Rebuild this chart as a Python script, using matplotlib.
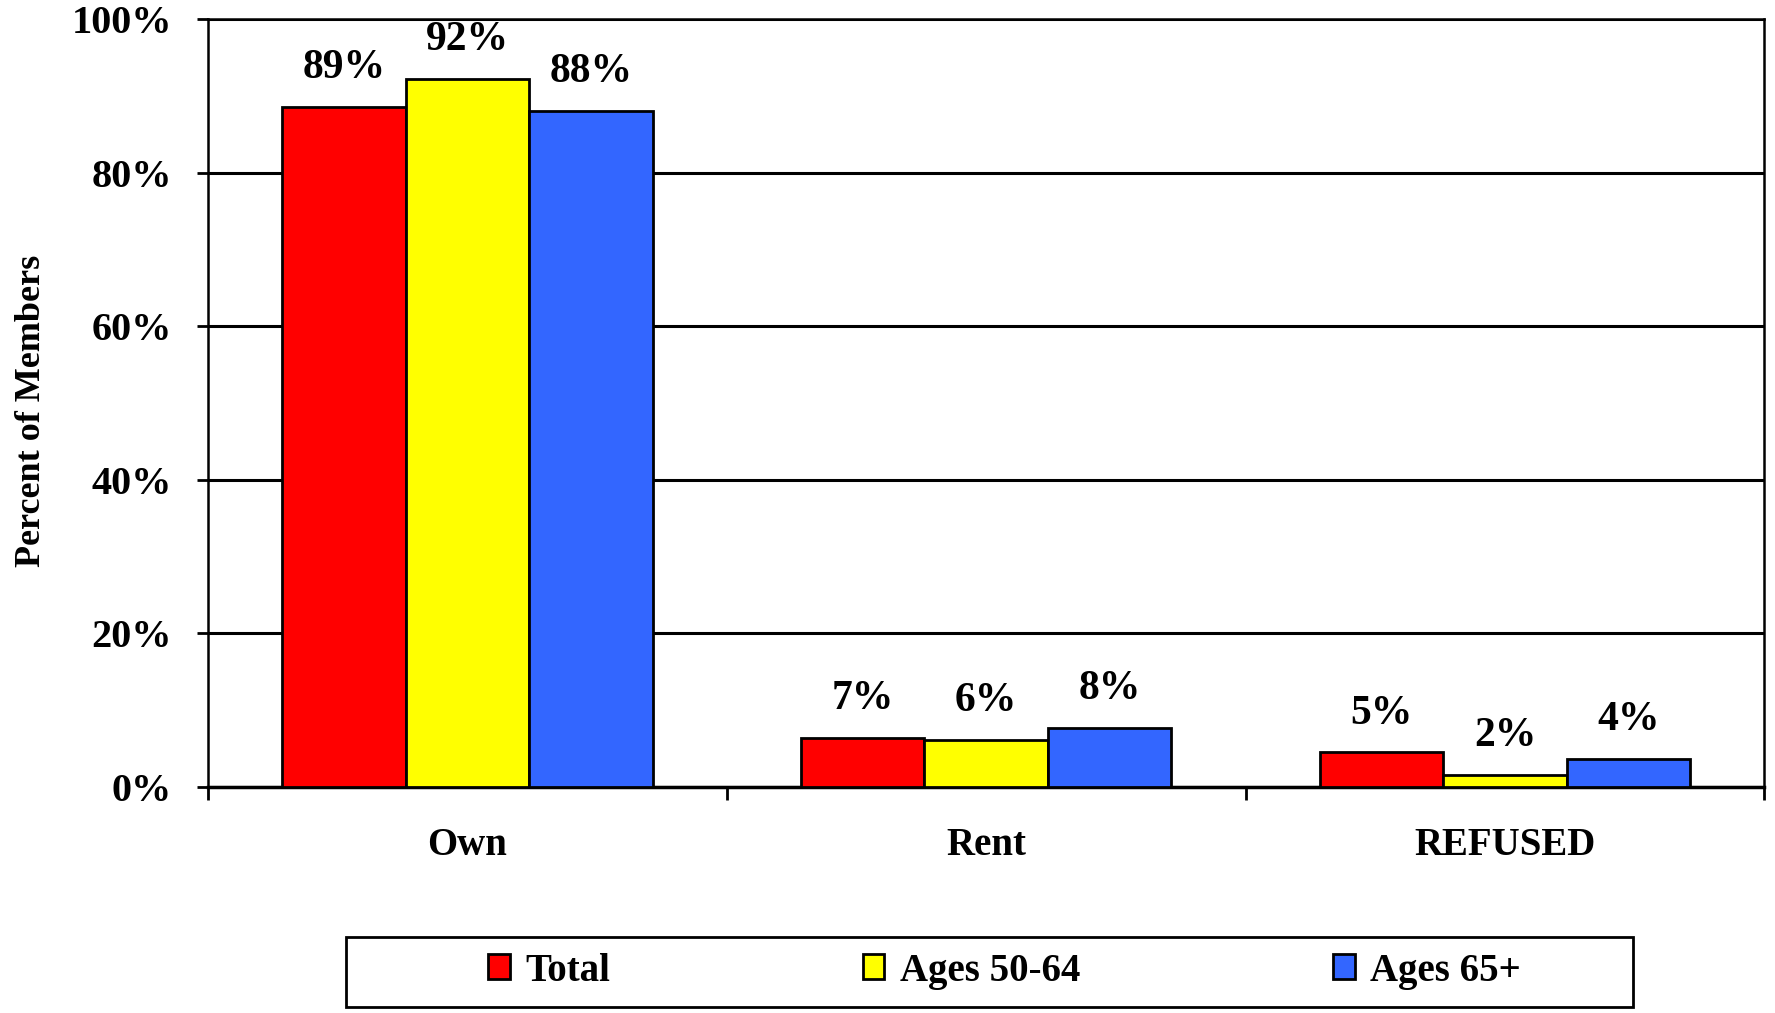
import matplotlib
matplotlib.use('Agg')
import numpy as np
import matplotlib.pyplot as plt
from matplotlib.patches import Rectangle

categories = ['Own', 'Rent', 'REFUSED']
series = ['Total', 'Ages 50-64', 'Ages 65+']
total = [88.5, 6.4, 4.5]
ages5064 = [92.2, 6.1, 1.6]
ages65 = [88.0, 7.7, 3.6]
labels_total = ['89%', '7%', '5%']
labels_5064 = ['92%', '6%', '2%']
labels_65 = ['88%', '8%', '4%']
yticks = [0, 20, 40, 60, 80, 100]

colors = ['#FF0000', '#FFFF00', '#3366FF']
plt.rcParams['font.family'] = 'Liberation Serif'
plt.rcParams['font.weight'] = 'bold'

fig = plt.figure(figsize=(17.75, 10.13), dpi=100)
ax = fig.add_axes([0.1172, 0.2231, 0.994 - 0.1172, 0.9812 - 0.2231])

barWidth = 0.238
x = np.arange(len(categories))
allValues = [total, ages5064, ages65]
allLabels = [labels_total, labels_5064, labels_65]
handles = []
for i in range(3):
  pos = x + (i - 1) * barWidth
  rects = ax.bar(pos, allValues[i], barWidth, color=colors[i], edgecolor='black', linewidth=2, label=series[i], zorder=3)
  handles.append(rects)
  for p, v, lab in zip(pos, allValues[i], allLabels[i]):
    ax.annotate(lab, (p, v), xytext=(0, 28), textcoords='offset points', ha='center', va='center', fontsize=30, fontweight='bold')

ax.set_xlim(-0.5, len(categories) - 0.5)
ax.set_ylim(0, 100)
ax.set_yticks(yticks)
ax.set_yticklabels([str(t) + '%' for t in yticks], fontsize=29, fontweight='bold')
ax.yaxis.grid(True, color='black', lw=2.2, zorder=0)
ax.set_axisbelow(True)
ax.tick_params(axis='y', direction='out', length=8, width=2, pad=18)

ax.set_xticks(np.arange(len(categories) + 1) - 0.5)
ax.set_xticklabels([])
ax.set_xticks(x, minor=True)
ax.set_xticklabels(categories, minor=True, fontsize=28, fontweight='bold')
ax.tick_params(axis='x', which='major', direction='out', length=9, width=2)
ax.tick_params(axis='x', which='minor', length=0, pad=29)

for s in ['left', 'right', 'top']:
  ax.spines[s].set_linewidth(1.8)
ax.spines['bottom'].set_linewidth(2.5)

ax.set_ylabel('Percent of Members', fontsize=26, fontweight='bold')
ax.yaxis.set_label_coords(-0.103, 0.49)

# legend box
fig.add_artist(Rectangle((346 / 1775, 1 - 1007 / 1013), 1287 / 1775, 70 / 1013, transform=fig.transFigure, facecolor='white', edgecolor='black', linewidth=2))
fig.legend(handles=handles, labels=series, loc='center', bbox_to_anchor=(0.566, 1 - 971 / 1013), ncol=3, frameon=False, handlelength=0.55, handleheight=0.6, handletextpad=0.4, columnspacing=6.5, prop={'weight': 'bold', 'size': 28})

plt.savefig('out.png', dpi=100)
